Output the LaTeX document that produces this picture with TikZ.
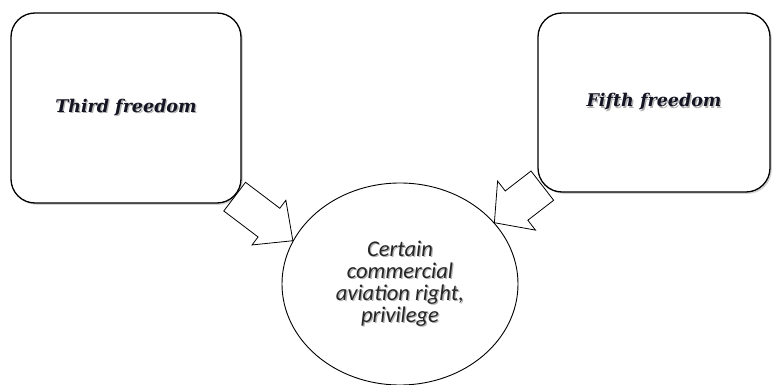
\documentclass[tikz,border=0pt]{standalone}
\usepackage{fontspec}
\setmainfont{Liberation Serif}
\newfontfamily\serbi{DejaVu Serif}
\newfontfamily\calfont{Carlito}
\usetikzlibrary{calc,shapes.geometric,shadows}
\definecolor{txtdark}{RGB}{20,20,35}
\newcommand\shd[1]{\leavevmode\rlap{\kern1.3pt\raisebox{-1.3pt}{\textcolor{black!30}{#1}}}#1}
\newcommand\blockarrow[5]{% tail, tip, head length, shaft half width, head half width
  \coordinate (ah) at ($(#2)!#3!(#1)$);
  \filldraw[arrowshape]
    ($(#1)!#4!90:(#2)$) -- ($(ah)!#4!90:(#2)$) -- ($(ah)!#5!90:(#2)$) -- (#2)
    -- ($(ah)!#5!-90:(#2)$) -- ($(ah)!#4!-90:(#2)$) -- ($(#1)!#4!-90:(#2)$) -- cycle;}
\begin{document}
\begin{tikzpicture}[x=1pt,y=-1pt,
  box/.style={draw, line width=1.3pt, rounded corners=24pt, fill=white, inner sep=0pt,
    drop shadow={shadow xshift=1.8pt, shadow yshift=-1.8pt, opacity=0.35},
    font=\serbi\fontsize{17.5}{22}\selectfont\bfseries\itshape, text=txtdark},
  oval/.style={draw, line width=0.9pt, ellipse, fill=white, inner sep=0pt,
    font=\calfont\fontsize{22.5}{22}\selectfont\itshape, text=black!85, align=center},
  arrowshape/.style={draw, line width=0.8pt, fill=white, line join=miter}
]
\useasboundingbox (0,0) rectangle (772,385);
\node[box, minimum width=230pt, minimum height=190pt] (b1) at (126,108) {\shd{Third freedom}};
\node[box, minimum width=232pt, minimum height=179pt] (b2) at (654,102.5) {\shd{Fifth freedom}};
\node[oval, minimum width=236pt, minimum height=202pt] (e) at (400,284)
  {\shd{Certain}\\ \shd{commercial}\\ \shd{aviation right,}\\ \shd{privilege}};
\coordinate (t1) at ($(b1.south east)+(-7,-7)$);
\coordinate (p1) at (e.158.6);
\coordinate (t2) at ($(b2.south west)+(5,-7)$);
\coordinate (p2) at (e.33);
\blockarrow{t1}{p1}{30pt}{18pt}{28pt}
\blockarrow{t2}{p2}{28pt}{18.5pt}{31pt}
\end{tikzpicture}
\end{document}
